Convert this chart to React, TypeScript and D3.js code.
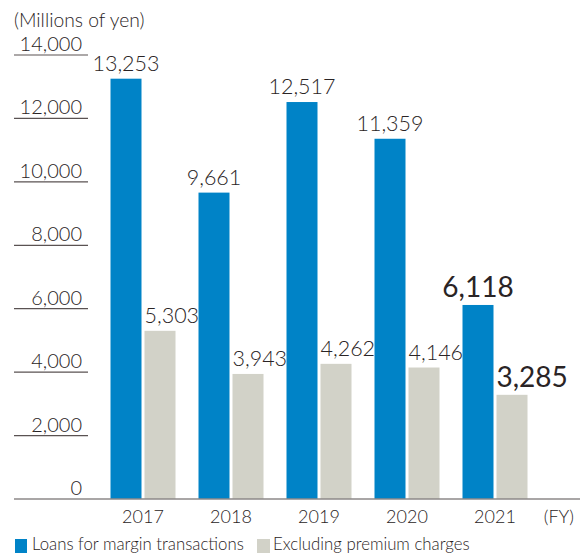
import React from "react";
import * as d3 from "d3";

const years = ["2017", "2018", "2019", "2020", "2021"];
const loans = [13253, 9661, 12517, 11359, 6118];
const excluding = [5303, 3943, 4262, 4146, 3285];
const yTicks = [0, 2000, 4000, 6000, 8000, 10000, 12000, 14000];
const seriesNames = ["Loans for margin transactions", "Excluding premium charges"];
const unitLabel = "(Millions of yen)";
const fyLabel = "(FY)";

const BLUE = "#0083c7";
const GRAY = "#d2d2c8";
const TEXT = "#2a2425";
const FONT = "Lato, 'Noto Sans', sans-serif";
const WEIGHT = 300;

export default function App() {
  const width = 581;
  const height = 553;
  const y = d3.scaleLinear().domain([0, 14000]).range([499, 55]);
  const x = d3.scaleBand<string>().domain(years).range([99, 539]).paddingInner(0).paddingOuter(0);
  const barW = 31;
  const gap = 3;
  const fmt = d3.format(",");
  const last = years.length - 1;

  return (
    <svg width={width} height={height} style={{ position: "absolute", left: 0, top: 0 }}
      fontFamily={FONT} fontWeight={WEIGHT} fill={TEXT}>
      <text x={14} y={27} fontSize={19.3}>{unitLabel}</text>

      {yTicks.map((t) => (
        <g key={t}>
          {t > 0 && (
            <line x1={14} x2={88} y1={y(t)} y2={y(t)} stroke="#5a5252" strokeWidth={1.2} />
          )}
          <text x={82} y={y(t) - 4} textAnchor="end" fontSize={20}>
            {fmt(t)}
          </text>
        </g>
      ))}

      {years.map((yr, i) => {
        const c = (x(yr) as number) + x.bandwidth() / 2;
        const bx = c - gap / 2 - barW;
        const gx = c + gap / 2;
        const big = i === last;
        const fs = big ? 28 : 21.5;
        return (
          <g key={yr}>
            <rect x={bx} y={y(loans[i])} width={barW} height={y(0) - y(loans[i])} fill={BLUE} />
            <rect x={gx} y={y(excluding[i])} width={barW} height={y(0) - y(excluding[i])} fill={GRAY} />
            <text x={bx + barW / 2} y={y(loans[i]) - 8} textAnchor="middle" fontSize={fs}
              fontWeight={big ? 400 : WEIGHT}>
              {fmt(loans[i])}
            </text>
            <text x={gx} y={y(excluding[i]) - 8} textAnchor="start" fontSize={fs}
              fontWeight={big ? 400 : WEIGHT}>
              {fmt(excluding[i])}
            </text>
            <text x={c} y={523} textAnchor="middle" fontSize={18}>{yr}</text>
          </g>
        );
      })}

      <line x1={14} x2={580} y1={y(0)} y2={y(0)} stroke="#8c8888" strokeWidth={1.5} />
      <text x={574} y={523} textAnchor="end" fontSize={18}>{fyLabel}</text>

      <rect x={15} y={539} width={12} height={14} fill={BLUE} />
      <text x={32} y={550} fontSize={16.8}>{seriesNames[0]}</text>
      <rect x={257} y={539} width={13} height={14} fill={GRAY} />
      <text x={273} y={550} fontSize={16.8}>{seriesNames[1]}</text>
    </svg>
  );
}
